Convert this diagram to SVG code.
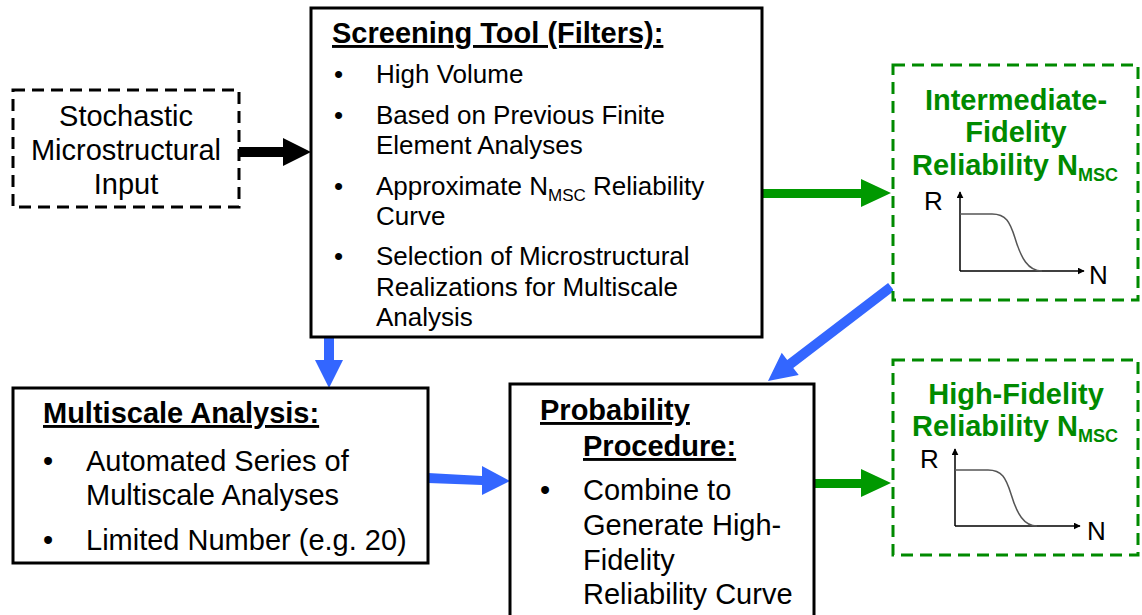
<svg xmlns="http://www.w3.org/2000/svg" width="1142" height="615" viewBox="0 0 1142 615">
<style>
text{font-family:"Liberation Sans",Arial,sans-serif;fill:#000}
.box{fill:#fff;stroke:#000;stroke-width:3}
.dbox{fill:#fff;stroke:#000;stroke-width:3;stroke-dasharray:12 7}
.gbox{fill:#fff;stroke:#008a00;stroke-width:3;stroke-dasharray:12 7}
.t29{font-size:29px}
.t26{font-size:26px}
.b29{font-size:29px;font-weight:bold}
.u{text-decoration:underline}
.g{fill:#008a00}
.sub{font-size:18px}
.ax{stroke:#000;stroke-width:1.5;fill:none}
.cv{stroke:#555;stroke-width:1.5;fill:none}
.blk{fill:#000}
.grn{fill:#009900}
.blu{fill:#3366ff}
</style>
<defs>
<marker id="ah" viewBox="0 0 10 10" refX="9" refY="5" markerWidth="7" markerHeight="7" orient="auto" markerUnits="userSpaceOnUse"><path d="M0,0 L10,5 L0,10 z" fill="#000"/></marker>
</defs>

<g id="connectors">
<path class="blk" d="M239,147 L283,147 L283,138 L311,152 L283,166 L283,157 L239,157 Z"/>
<path class="grn" d="M762,189 L861,189 L861,179 L891,193 L861,207 L861,198 L762,198 Z"/>
<path class="grn" d="M814,479 L861,479 L861,469 L891,483 L861,497 L861,488 L814,488 Z"/>
<path class="blu" d="M324,337 L334,337 L334,360 L343,360 L329,388 L315,360 L324,360 Z"/>
<path class="blu" d="M428,473 L482,476 L482,466 L510,481 L482,495 L482,485 L428,483 Z"/>
<g transform="translate(768,381) rotate(-37.4)">
<path class="blu" d="M0,0 L28,-14 L28,-5 L155,-5 L155,5 L28,5 L28,14 Z"/>
</g>
</g>

<g id="stochastic">
<rect class="dbox" x="13" y="90" width="226" height="117"/>
<text class="t29" x="126" y="126" text-anchor="middle">Stochastic</text>
<text class="t29" x="126" y="160" text-anchor="middle">Microstructural</text>
<text class="t29" x="126" y="194" text-anchor="middle">Input</text>
</g>

<g id="screening">
<rect class="box" x="311" y="8" width="451" height="329"/>
<text class="b29 u" x="332" y="43">Screening Tool (Filters):</text>
<text class="t26" x="334" y="83">•</text><text class="t26" x="376" y="83">High Volume</text>
<text class="t26" x="334" y="124">•</text><text class="t26" x="376" y="124">Based on Previous Finite</text>
<text class="t26" x="376" y="154">Element Analyses</text>
<text class="t26" x="334" y="195">•</text><text class="t26" x="376" y="195">Approximate N<tspan font-size="17" dy="6">MSC</tspan><tspan dy="-6"> Reliability</tspan></text>
<text class="t26" x="376" y="225">Curve</text>
<text class="t26" x="334" y="265">•</text><text class="t26" x="376" y="265">Selection of Microstructural</text>
<text class="t26" x="376" y="296">Realizations for Multiscale</text>
<text class="t26" x="376" y="326">Analysis</text>
</g>

<g id="intermediate">
<rect class="gbox" x="893" y="65" width="245" height="235"/>
<text class="b29 g" x="1016" y="110" text-anchor="middle">Intermediate-</text>
<text class="b29 g" x="1016" y="142" text-anchor="middle">Fidelity</text>
<text class="b29 g" x="1015" y="175" text-anchor="middle">Reliability N<tspan class="sub" dy="6">MSC</tspan></text>
<text class="t26" x="924" y="210">R</text>
<text class="t26" x="1089" y="284">N</text>
<path class="ax" d="M960,271 L960,192" marker-end="url(#ah)"/>
<path class="ax" d="M960,271 L1084,271" marker-end="url(#ah)"/>
<path class="cv" d="M960,214 L992,214 C1006,214 1010,222 1015,238 C1021,258 1028,271 1042,271"/>
</g>

<g id="multiscale">
<rect class="box" x="13" y="388" width="415" height="175"/>
<text class="b29 u" x="43" y="423">Multiscale Analysis:</text>
<text class="t29" x="43" y="471">•</text><text class="t29" x="86" y="471">Automated Series of</text>
<text class="t29" x="86" y="505">Multiscale Analyses</text>
<text class="t29" x="43" y="550">•</text><text class="t29" x="86" y="550">Limited Number (e.g. 20)</text>
</g>

<g id="probability">
<rect class="box" x="510" y="384" width="304" height="240"/>
<text class="b29 u" x="540" y="420">Probability</text>
<text class="b29 u" x="583" y="456">Procedure:</text>
<text class="t29" x="540" y="500">•</text><text class="t29" x="583" y="500">Combine to</text>
<text class="t29" x="583" y="535">Generate High-</text>
<text class="t29" x="583" y="570">Fidelity</text>
<text class="t29" x="583" y="604">Reliability Curve</text>
</g>

<g id="highfidelity">
<rect class="gbox" x="893" y="360" width="245" height="195"/>
<text class="b29 g" x="1016" y="404" text-anchor="middle">High-Fidelity</text>
<text class="b29 g" x="1015" y="436" text-anchor="middle">Reliability N<tspan class="sub" dy="6">MSC</tspan></text>
<text class="t26" x="920" y="468">R</text>
<text class="t26" x="1087" y="540">N</text>
<path class="ax" d="M955,526 L955,449" marker-end="url(#ah)"/>
<path class="ax" d="M955,526 L1080,526" marker-end="url(#ah)"/>
<path class="cv" d="M955,470 L988,470 C1002,470 1006,478 1011,494 C1017,514 1024,526 1037,526"/>
</g>
</svg>
